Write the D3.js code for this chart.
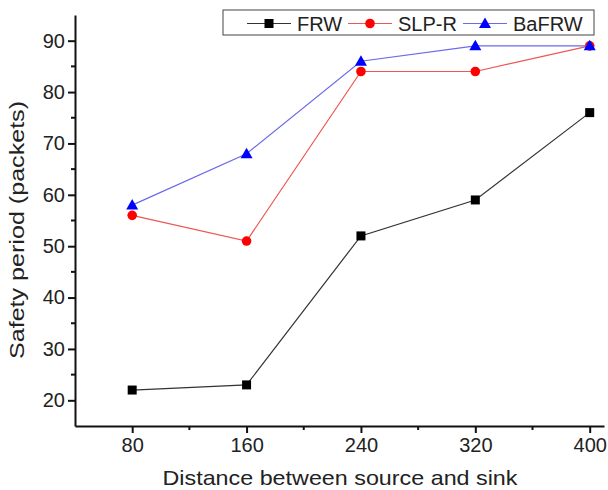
<!DOCTYPE html>
<html>
<head>
<meta charset="utf-8">
<script src="https://cdn.jsdelivr.net/npm/d3@7"></script>
<style>
  body { margin: 0; background: #fff; }
  text { font-family: "Liberation Sans", Arial, sans-serif; fill: #222; }
</style>
</head>
<body>
<div id="chart"></div>
<script>
var distances = [80, 160, 240, 320, 400];
var frw = [22, 23, 52, 59, 76];
var slpr = [56, 51, 84, 84, 89];
var bafrw = [58, 68, 86, 89, 89];
var seriesNames = ["FRW", "SLP-R", "BaFRW"];
var yTicks = [20, 30, 40, 50, 60, 70, 80, 90];

var width = 608, height = 490;

var svg = d3.select("#chart").append("svg")
    .attr("width", width)
    .attr("height", height);

var x = d3.scaleLinear().domain([40, 410]).range([75, 604]);
var y = d3.scaleLinear().domain([15, 95]).range([426, 15]);

var series = [
  {name: seriesNames[0], values: frw, line: "#333", fill: "#000", shape: "square"},
  {name: seriesNames[1], values: slpr, line: "#ee5555", fill: "#ff0000", shape: "circle"},
  {name: seriesNames[2], values: bafrw, line: "#6a6ae8", fill: "#0000ff", shape: "triangle"}
];

// axes
var xAxis = d3.axisBottom(x).tickValues(distances).tickSize(7).tickSizeOuter(0).tickPadding(5);
var yAxis = d3.axisLeft(y).tickValues(yTicks).tickSize(7).tickSizeOuter(0).tickPadding(3);

var gx = svg.append("g").attr("transform", "translate(0," + y.range()[0] + ")").call(xAxis);
var gy = svg.append("g").attr("transform", "translate(" + x.range()[0] + ",0)").call(yAxis);

[gx, gy].forEach(function(g) {
  g.attr("font-size", null).attr("font-family", null);
  g.select(".domain").attr("stroke", "#111").attr("stroke-width", 2);
  g.selectAll(".tick line").attr("stroke", "#111").attr("stroke-width", 2);
  g.selectAll(".tick text").style("font-size", "20px").attr("fill", "#222");
});

// minor ticks
gx.selectAll(".minor").data([120, 200, 280, 360]).enter().append("line")
  .attr("x1", function(d) { return x(d); }).attr("x2", function(d) { return x(d); })
  .attr("y1", 0).attr("y2", 4).attr("stroke", "#111").attr("stroke-width", 2);
gy.selectAll(".minor").data([25, 35, 45, 55, 65, 75, 85]).enter().append("line")
  .attr("y1", function(d) { return y(d); }).attr("y2", function(d) { return y(d); })
  .attr("x1", 0).attr("x2", -4).attr("stroke", "#111").attr("stroke-width", 2);

// axis titles
svg.append("text")
  .attr("x", 340).attr("y", 485)
  .attr("text-anchor", "middle")
  .attr("textLength", 355).attr("lengthAdjust", "spacingAndGlyphs")
  .style("font-size", "21px")
  .text("Distance between source and sink");

svg.append("text")
  .attr("transform", "translate(24,230) rotate(-90)")
  .attr("text-anchor", "middle")
  .attr("textLength", 258).attr("lengthAdjust", "spacingAndGlyphs")
  .style("font-size", "21px")
  .text("Safety period (packets)");

var line = d3.line()
  .x(function(d, i) { return x(distances[i]); })
  .y(function(d) { return y(d); });

function drawMarker(g, shape, color, cx, cy) {
  if (shape === "square") {
    g.append("rect").attr("x", cx - 4.5).attr("y", cy - 4.5).attr("width", 9).attr("height", 9).attr("fill", color);
  } else if (shape === "circle") {
    g.append("circle").attr("cx", cx).attr("cy", cy).attr("r", 4.8).attr("fill", color);
  } else {
    g.append("path")
      .attr("d", "M" + cx + "," + (cy - 6) + "L" + (cx + 6) + "," + (cy + 4.5) + "L" + (cx - 6) + "," + (cy + 4.5) + "Z")
      .attr("fill", color);
  }
}

series.forEach(function(s) {
  var g = svg.append("g");
  g.append("path").attr("d", line(s.values))
    .attr("fill", "none").attr("stroke", s.line).attr("stroke-width", 1.2);
  s.values.forEach(function(v, i) {
    drawMarker(g, s.shape, s.fill, x(distances[i]), y(v));
  });
});

// legend
var legend = svg.append("g");
legend.append("rect")
  .attr("x", 223).attr("y", 10).attr("width", 371).attr("height", 25)
  .attr("fill", "#fff").attr("stroke", "#444").attr("stroke-width", 1);

var legendX = [247, 348, 463];
series.forEach(function(s, i) {
  var lx = legendX[i], ly = 23.5;
  legend.append("line").attr("x1", lx).attr("x2", lx + 44).attr("y1", ly).attr("y2", ly)
    .attr("stroke", s.line).attr("stroke-width", 1.2);
  drawMarker(legend, s.shape, s.fill, lx + 22, ly);
  legend.append("text").attr("x", lx + 50).attr("y", ly + 7)
    .style("font-size", "20px").text(s.name);
});
</script>
</body>
</html>
